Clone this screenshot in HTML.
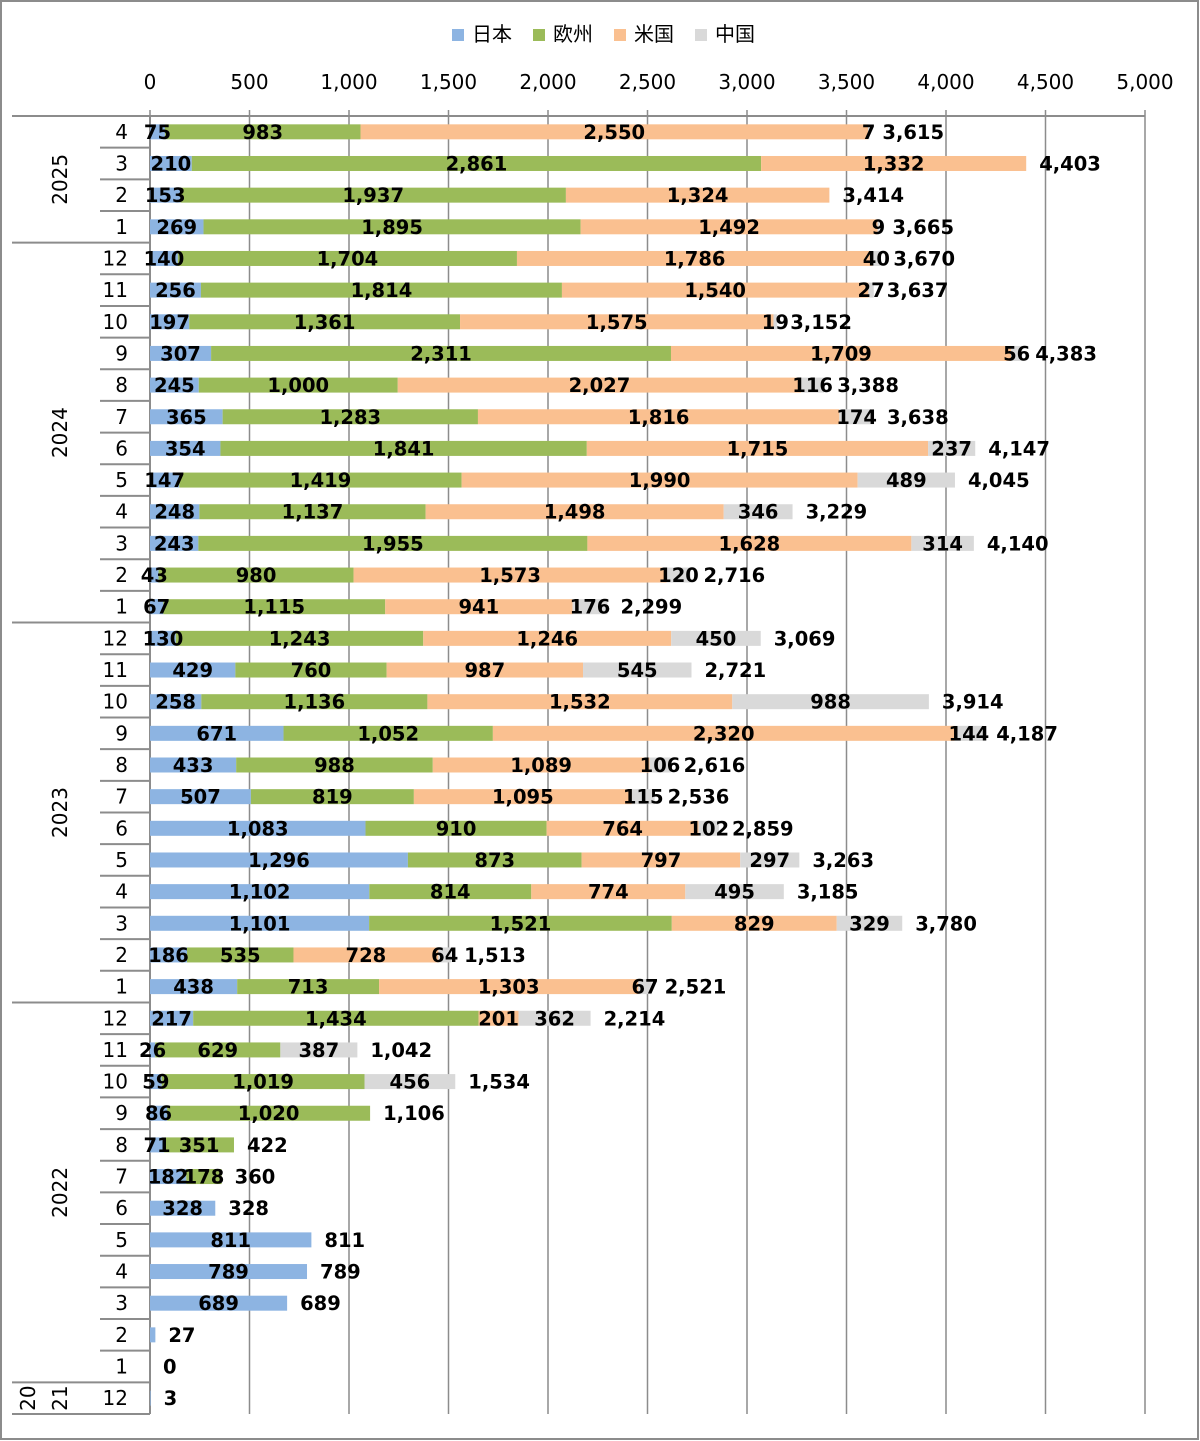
<!DOCTYPE html>
<html><head><meta charset="utf-8">
<style>
html,body{margin:0;padding:0;background:#fff;}
svg{display:block;}
text{font-family:"DejaVu Sans","Liberation Sans","Noto Sans CJK JP",sans-serif;}
</style></head>
<body>
<svg id="chart" width="1200" height="1441" viewBox="0 0 1200 1441" xmlns="http://www.w3.org/2000/svg">
<rect x="1" y="1" width="1197" height="1438" fill="#fff" stroke="#8c8c8c" stroke-width="2"/>
<g font-size="20" fill="#000">
<g><rect x="452" y="29" width="12" height="12" fill="#8db4e2"/><text x="472" y="41" font-family="'Noto Sans CJK JP',sans-serif">日本</text></g>
<g><rect x="533" y="29" width="12" height="12" fill="#9bbb59"/><text x="553" y="41" font-family="'Noto Sans CJK JP',sans-serif">欧州</text></g>
<g><rect x="614" y="29" width="12" height="12" fill="#fac090"/><text x="634" y="41" font-family="'Noto Sans CJK JP',sans-serif">米国</text></g>
<g><rect x="695" y="29" width="12" height="12" fill="#d9d9d9"/><text x="715" y="41" font-family="'Noto Sans CJK JP',sans-serif">中国</text></g>
</g>
<g id="plot"></g>
</svg>
<script>
const monthLabels = ["4","3","2","1","12","11","10","9","8","7","6","5","4","3","2","1","12","11","10","9","8","7","6","5","4","3","2","1","12","11","10","9","8","7","6","5","4","3","2","1","12"];
const japan  = [75,210,153,269,140,256,197,307,245,365,354,147,248,243,43,67,130,429,258,671,433,507,1083,1296,1102,1101,186,438,217,26,59,86,71,182,328,811,789,689,27,0,3];
const europe = [983,2861,1937,1895,1704,1814,1361,2311,1000,1283,1841,1419,1137,1955,980,1115,1243,760,1136,1052,988,819,910,873,814,1521,535,713,1434,629,1019,1020,351,178,0,0,0,0,0,0,0];
const usa    = [2550,1332,1324,1492,1786,1540,1575,1709,2027,1816,1715,1990,1498,1628,1573,941,1246,987,1532,2320,1089,1095,764,797,774,829,728,1303,201,0,0,0,0,0,0,0,0,0,0,0,0];
const china  = [7,0,0,9,40,27,19,56,116,174,237,489,346,314,120,176,450,545,988,144,106,115,102,297,495,329,64,67,362,387,456,0,0,0,0,0,0,0,0,0,0];
const xTicks = [0,500,1000,1500,2000,2500,3000,3500,4000,4500,5000];
const yearGroups = [["2025",4],["2024",12],["2023",12],["2022",12],["2021",1]];

const NS="http://www.w3.org/2000/svg";
const plot=document.getElementById('plot');
const N=monthLabels.length;
const X0=150, X1=1145, XMAX=5000, Y0=116, BARH=15;
const ROWH=(1414-Y0)/N;
const xs=v=>X0+v/XMAX*(X1-X0);
const yc=i=>Y0+ROWH*(i+0.5);
const fmt=v=>v.toLocaleString('en-US');
function mk(tag,attrs,parent){const e=document.createElementNS(NS,tag);for(const k in attrs)e.setAttribute(k,attrs[k]);(parent||plot).appendChild(e);return e;}
const YB=Y0+ROWH*N;
xTicks.forEach(t=>{
  const l=mk('line',{x1:xs(t),x2:xs(t),y1:Y0-6,y2:YB,stroke:'#8c8c8c','stroke-width':1.5});
  
  
  const tx=mk('text',{x:xs(t),y:89,'text-anchor':'middle','font-size':20,fill:'#000'});
  tx.textContent=fmt(t);
  
  
});
const topLine=mk('line',{x1:12,x2:X1,y1:Y0,y2:Y0,stroke:'#8c8c8c','stroke-width':2});


const yAxisLine=mk('line',{x1:X0,x2:X0,y1:Y0,y2:YB,stroke:'#8c8c8c','stroke-width':2});


let row=0;
const yearStarts=new Set();
yearGroups.forEach(([yr,cnt])=>{
  const ys=Y0+ROWH*row, ye=Y0+ROWH*(row+cnt);
  yearStarts.add(row);
  const sep=mk('line',{x1:12,x2:X0,y1:ye,y2:ye,stroke:'#8c8c8c','stroke-width':2});
  
  
  const cy=(ys+ye)/2;
  if(cnt>1){
    const t=mk('text',{x:0,y:0,'text-anchor':'middle','font-size':20,fill:'#000',transform:`translate(67,${cy}) rotate(-90)`});
    t.textContent=yr;
    
    
  } else {
    const a=mk('text',{x:0,y:0,'text-anchor':'middle','font-size':20,fill:'#000',transform:`translate(35,${cy}) rotate(-90)`});
    a.textContent=yr.slice(0,2);
    
    
    const b=mk('text',{x:0,y:0,'text-anchor':'middle','font-size':20,fill:'#000',transform:`translate(67,${cy}) rotate(-90)`});
    b.textContent=yr.slice(2);
    
    
  }
  row+=cnt;
});
for(let i=0;i<N;i++){
  if(i>0 && !yearStarts.has(i)){
    const s=mk('line',{x1:100,x2:X0,y1:Y0+ROWH*i,y2:Y0+ROWH*i,stroke:'#8c8c8c','stroke-width':2});
    
    
  }
  const m=mk('text',{x:128,y:yc(i)+7,'text-anchor':'end','font-size':20,fill:'#000'});
  m.textContent=monthLabels[i];
  
  
}
const series=[["japan",japan,"#8db4e2"],["europe",europe,"#9bbb59"],["us",usa,"#fac090"],["china",china,"#d9d9d9"]];
const labels=[];
for(let i=0;i<N;i++){
  let acc=0;
  const nz=series.map(s=>s[1][i]).filter(v=>v>0).length;
  series.forEach(([nm,arr,col])=>{
    const v=arr[i];
    if(v<=0) return;
    const x=xs(acc), w=xs(acc+v)-xs(acc);
    const r=mk('rect',{x:x,y:yc(i)-BARH/2,width:w,height:BARH,fill:col});
    
    
    if(!(nz===1 && v<50)) labels.push([x+w/2,yc(i),fmt(v),'middle','label-'+nm+'-'+i]);
    acc+=v;
  });
  labels.push([xs(acc)+13,yc(i),fmt(acc),'start','total-label-'+i]);
}
labels.forEach(([x,y,t,anc,nm])=>{
  const tx=mk('text',{x:x,y:y+7,'text-anchor':anc,'font-size':19.5,'font-weight':'bold',fill:'#000'});
  tx.textContent=t;
  
  
});
</script>
</body></html>
